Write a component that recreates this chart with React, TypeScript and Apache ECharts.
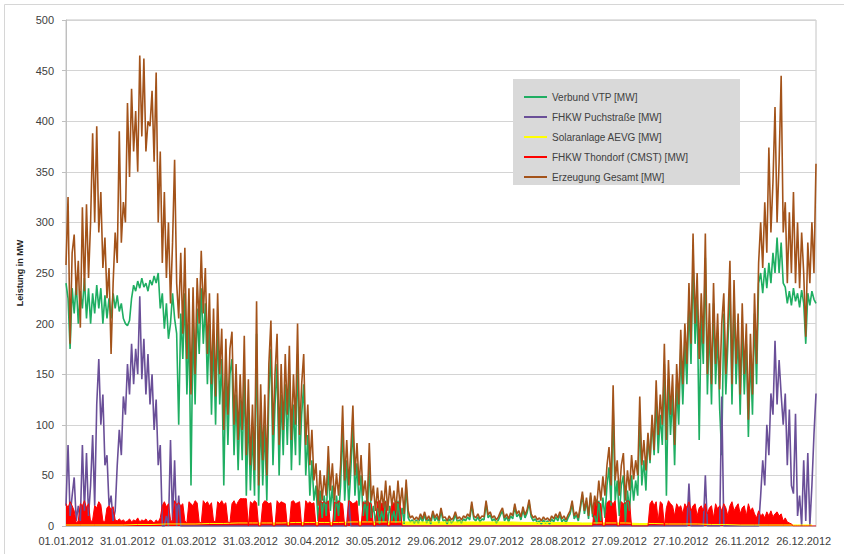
import React, { useEffect, useRef } from 'react';
import * as echarts from 'echarts';

// x tick labels (every 30 days from 01.01.2012)
const xTickLabels = [
  '01.01.2012', '31.01.2012', '01.03.2012', '31.03.2012', '30.04.2012', '30.05.2012', '29.06.2012',
  '29.07.2012', '28.08.2012', '27.09.2012', '27.10.2012', '26.11.2012', '26.12.2012',
];

const names = [
  'Verbund VTP [MW]',
  'FHKW Puchstraße [MW]',
  'Solaranlage AEVG [MW]',
  'FHKW Thondorf (CMST) [MW]',
  'Erzeugung Gesamt [MW]',
];

// Erzeugung Gesamt, one value per day (day 0..366)
const gesamt = [
  258, 325, 180, 270, 288, 228, 262, 196, 315, 232,
  318, 245, 300, 388, 300, 395, 290, 330, 255, 285,
  225, 255, 170, 240, 290, 260, 390, 280, 320, 300,
  418, 345, 432, 370, 410, 350, 465, 385, 462, 370,
  400, 395, 430, 360, 448, 300, 370, 260, 330, 245,
  300, 220, 280, 362, 240, 205, 270, 190, 275, 165,
  235, 130, 236, 150, 245, 200, 272, 210, 255, 170,
  230, 140, 215, 128, 230, 150, 195, 95, 185, 110,
  175, 192, 100, 160, 85, 150, 95, 188, 70, 145,
  60, 120, 55, 222, 40, 140, 65, 130, 50, 160,
  203, 90, 150, 190, 80, 160, 95, 170, 110, 178,
  85, 150, 100, 200, 90, 140, 170, 80, 120, 60,
  95, 45, 62, 20, 55, 25, 50, 30, 79, 35,
  62, 25, 52, 30, 60, 119, 45, 85, 40, 75,
  119, 50, 82, 40, 70, 30, 45, 20, 82, 25,
  40, 15, 38, 12, 35, 18, 45, 15, 40, 20,
  35, 15, 45, 20, 38, 12, 46, 15, 8, 10,
  6, 9, 6, 12, 7, 14, 6, 10, 5, 15,
  8, 12, 6, 18, 8, 9, 5, 10, 6, 8,
  14, 7, 9, 6, 10, 8, 12, 9, 24, 10,
  8, 12, 7, 10, 9, 25, 11, 14, 8, 10,
  6, 9, 14, 18, 8, 12, 7, 13, 10, 22,
  12, 15, 9, 19, 11, 16, 26, 12, 8, 10,
  6, 8, 5, 9, 6, 8, 5, 10, 7, 12,
  8, 14, 7, 10, 6, 11, 15, 25, 10, 14,
  8, 20, 34, 15, 28, 10, 33, 12, 30, 20,
  45, 25, 49, 30, 60, 78, 40, 139, 45, 65,
  30, 60, 72, 25, 55, 35, 70, 46, 65, 50,
  128, 60, 85, 55, 92, 65, 110, 75, 144, 90,
  130, 100, 180, 85, 164, 110, 150, 80, 160, 120,
  194, 140, 200, 160, 240, 180, 289, 200, 250, 165,
  230, 180, 289, 150, 220, 140, 240, 160, 210, 135,
  200, 230, 150, 200, 262, 140, 243, 160, 210, 130,
  220, 150, 200, 105, 190, 130, 230, 160, 260, 300,
  255, 320, 270, 374, 290, 340, 414, 300, 360, 445,
  290, 320, 240, 310, 250, 330, 240, 300, 235, 290,
  250, 187, 280, 240, 300, 250, 358,
];

// Verbund VTP, one value per day
const verbund = [
  240, 225, 175, 235, 210, 240, 200, 232, 215, 245,
  205, 235, 200, 230, 210, 238, 215, 235, 200, 228,
  205, 225, 205, 230, 215, 228, 212, 220, 205, 200,
  198, 203, 225, 238, 232, 242, 235, 245, 236, 240,
  232, 243, 238, 247, 240, 250, 215, 230, 195, 220,
  185, 200, 230, 205, 190, 100, 210, 165, 230, 130,
  200, 40, 205, 120, 215, 170, 235, 180, 220, 140,
  200, 110, 185, 100, 200, 120, 165, 40, 155, 80,
  150, 165, 70, 130, 55, 125, 65, 150, 30, 115,
  35, 95, 30, 190, 20, 110, 40, 100, 25, 130,
  175, 60, 120, 160, 50, 130, 70, 140, 80, 150,
  55, 120, 70, 170, 60, 110, 140, 50, 90, 30,
  65, 25, 40, 5, 35, 8, 30, 10, 60, 15,
  40, 5, 30, 10, 40, 100, 25, 65, 20, 55,
  100, 30, 62, 20, 50, 10, 25, 5, 62, 8,
  20, 3, 18, 2, 15, 4, 25, 3, 20, 5,
  15, 3, 25, 5, 18, 2, 40, 8, 4, 6,
  3, 6, 3, 9, 4, 11, 3, 7, 2, 12,
  5, 9, 3, 15, 5, 6, 2, 7, 3, 5,
  11, 4, 6, 3, 7, 5, 9, 6, 21, 7,
  5, 9, 4, 7, 6, 22, 8, 11, 5, 7,
  3, 6, 11, 15, 5, 9, 4, 10, 7, 19,
  9, 12, 6, 16, 8, 13, 23, 9, 5, 7,
  3, 5, 2, 6, 3, 5, 2, 7, 4, 9,
  5, 11, 4, 7, 3, 8, 12, 22, 7, 11,
  5, 17, 31, 12, 25, 7, 30, 9, 10, 2,
  25, 5, 28, 8, 40, 58, 20, 118, 25, 45,
  10, 40, 50, 4, 35, 15, 50, 25, 45, 30,
  108, 40, 65, 35, 90, 62, 105, 70, 125, 72,
  110, 80, 160, 30, 145, 90, 130, 60, 140, 100,
  175, 120, 180, 140, 220, 160, 260, 180, 225, 85,
  210, 160, 265, 130, 200, 120, 220, 140, 190, 115,
  70, 210, 130, 180, 240, 120, 222, 140, 190, 110,
  200, 130, 180, 88, 170, 110, 210, 140, 240, 250,
  230, 255, 235, 260, 240, 270, 250, 285, 250, 280,
  240, 236, 220, 232, 218, 235, 222, 230, 216, 233,
  220, 180, 230, 218, 232, 224, 220,
];

// FHKW Puchstraße, one value per day
const puchstrasse = [
  20, 80, 10, 30, 48, 5, 20, 5, 80, 15,
  72, 10, 40, 90, 20, 120, 165, 100, 130, 60,
  70, 20, 30, 5, 15, 60, 95, 70, 128, 110,
  160, 130, 180, 140, 175, 150, 227, 145, 185, 130,
  170, 120, 150, 95, 125, 60, 80, 0, 0, 10,
  0, 85, 5, 65, 0, 30, 0, 0, 0, 0,
  0, 0, 0, 0, 0, 0, 0, 0, 0, 0,
  0, 0, 0, 0, 0, 0, 0, 0, 0, 0,
  0, 0, 0, 0, 0, 0, 0, 0, 0, 0,
  0, 0, 0, 0, 0, 0, 0, 0, 0, 0,
  0, 0, 0, 0, 0, 0, 0, 0, 0, 0,
  0, 0, 0, 0, 0, 0, 0, 0, 0, 0,
  0, 0, 0, 0, 0, 0, 0, 0, 0, 0,
  0, 0, 0, 0, 0, 0, 0, 0, 25, 0,
  0, 0, 0, 0, 0, 0, 0, 0, 0, 0,
  0, 0, 0, 0, 0, 0, 0, 0, 0, 0,
  0, 0, 0, 0, 0, 0, 0, 0, 0, 0,
  0, 0, 0, 0, 0, 0, 0, 0, 0, 0,
  0, 0, 0, 0, 0, 0, 0, 0, 0, 0,
  0, 0, 0, 0, 0, 0, 0, 0, 0, 0,
  0, 0, 0, 0, 0, 0, 0, 0, 0, 0,
  0, 0, 0, 0, 0, 0, 0, 0, 0, 0,
  0, 0, 0, 0, 0, 0, 0, 0, 0, 0,
  0, 0, 0, 0, 0, 0, 0, 0, 0, 0,
  0, 0, 0, 0, 0, 0, 0, 0, 0, 0,
  0, 0, 0, 0, 0, 0, 0, 0, 0, 0,
  0, 0, 0, 0, 0, 0, 0, 0, 0, 0,
  0, 0, 0, 0, 0, 0, 0, 0, 0, 0,
  0, 0, 0, 0, 0, 0, 0, 0, 0, 0,
  0, 0, 0, 0, 0, 0, 0, 0, 0, 0,
  0, 0, 0, 0, 42, 0, 0, 0, 0, 0,
  0, 0, 50, 0, 0, 0, 0, 0, 0, 0,
  128, 0, 0, 0, 0, 0, 0, 0, 0, 0,
  0, 0, 0, 0, 0, 0, 0, 0, 0, 30,
  65, 40, 100, 70, 131, 110, 183, 120, 164, 130,
  100, 131, 60, 115, 40, 32, 111, 10, 30, 0,
  65, 5, 72, 0, 40, 90, 131,
];

// FHKW Thondorf (CMST), one value per day
const thondorf = [
  22, 18, 24, 20, 15, 3, 5, 22, 20, 25,
  18, 22, 4, 6, 20, 18, 24, 21, 5, 4,
  18, 20, 16, 19, 6, 5, 7, 5, 6, 4,
  5, 7, 4, 6, 5, 8, 4, 6, 5, 7,
  4, 6, 5, 3, 6, 4, 8, 20, 24, 19,
  22, 6, 4, 25, 21, 23, 20, 22, 5, 3,
  24, 22, 20, 25, 23, 4, 3, 25, 22, 24,
  20, 23, 5, 4, 24, 22, 25, 21, 23, 4,
  3, 22, 25, 20, 24, 27, 27, 27, 27, 0,
  24, 22, 25, 23, 0, 0, 22, 25, 24, 22,
  23, 0, 0, 25, 22, 24, 23, 22, 0, 0,
  24, 25, 22, 23, 24, 0, 0, 25, 22, 24,
  22, 23, 0, 0, 25, 23, 24, 22, 25, 0,
  0, 24, 22, 25, 23, 22, 0, 0, 25, 24,
  22, 23, 25, 0, 0, 24, 22, 25, 23, 22,
  0, 0, 24, 25, 22, 23, 24, 0, 0, 25,
  22, 24, 23, 22, 0, 0, 0, 0, 0, 0,
  0, 0, 0, 0, 0, 0, 0, 0, 0, 0,
  0, 0, 0, 0, 0, 0, 0, 0, 0, 0,
  0, 0, 0, 0, 0, 0, 0, 0, 0, 0,
  0, 0, 0, 0, 0, 0, 0, 0, 0, 0,
  0, 0, 0, 0, 0, 0, 0, 0, 0, 0,
  0, 0, 0, 0, 0, 0, 0, 0, 0, 0,
  0, 0, 0, 0, 0, 0, 0, 0, 0, 0,
  0, 0, 0, 0, 0, 0, 0, 0, 0, 0,
  0, 0, 0, 0, 0, 0, 0, 0, 24, 25,
  23, 22, 0, 0, 23, 25, 24, 22, 25, 0,
  0, 24, 22, 23, 25, 24, 0, 0, 0, 0,
  0, 0, 0, 0, 0, 22, 25, 20, 24, 5,
  24, 22, 0, 18, 25, 22, 20, 10, 22, 18,
  20, 12, 22, 18, 24, 15, 20, 22, 10, 18,
  20, 15, 22, 12, 18, 20, 8, 22, 17, 20,
  15, 22, 18, 10, 20, 24, 15, 19, 22, 12,
  18, 20, 10, 22, 15, 18, 12, 8, 15, 10,
  12, 8, 14, 10, 15, 9, 12, 14, 10, 12,
  5, 8, 4, 3, 2, 0, 0, 0, 0, 0,
  0, 0, 0, 0, 0, 0, 0,
];

// Solaranlage AEVG, one value per week (day 0, 7, 14, ...)
const solar = [
  1, 1, 1, 1, 1, 1.5, 1.5, 2, 2, 2,
  2.5, 2.5, 3, 3, 3, 3, 3.5, 3.5, 3.5, 3.5,
  4, 4, 4, 4, 4, 4, 4, 4, 4, 4,
  4, 4, 3.5, 3.5, 3.5, 3.5, 3, 3, 3, 3,
  2.5, 2.5, 2, 2, 2, 1.5, 1.5, 1, 1, 1,
  1, 1, 1,
];

const colors = ['#1fae62', '#6a4f98', '#ffff00', '#ff0000', '#a3531a'];

export default function App() {
  const ref = useRef<HTMLDivElement>(null);
  useEffect(() => {
    const chart = echarts.init(ref.current as HTMLDivElement, null, { renderer: 'svg' });
    const toXY = (arr: number[], step: number) => arr.map((v, i) => [i * step, v]);
    const mk = (i: number, arr: number[], step: number, width: number, area: boolean) => ({
      name: names[i],
      type: 'line',
      data: toXY(arr, step),
      symbol: 'none',
      showSymbol: false,
      silent: true,
      lineStyle: { color: colors[i], width },
      itemStyle: { color: colors[i] },
      areaStyle: area ? { color: colors[i], opacity: 1 } : undefined,
    });
    chart.setOption({
      animation: false,
      textStyle: { fontFamily: 'Liberation Sans, Arial, sans-serif' },
      grid: {
        left: 66, right: 28, top: 20, bottom: 28,
        show: true, borderColor: '#c4c4c4', borderWidth: 1, backgroundColor: 'transparent',
      },
      graphic: [
        {
          type: 'rect', z: 0, silent: true,
          shape: { x: 4.5, y: 4.5, width: 900, height: 600 },
          style: { fill: 'none', stroke: '#d6d6d6', lineWidth: 1 },
        },
        {
          type: 'rect', z: 50, silent: true,
          shape: { x: 513, y: 79, width: 227, height: 106 },
          style: { fill: '#d9d9d9' },
        },
      ],
      legend: {
        z: 60,
        orient: 'vertical',
        left: 519,
        top: 86,
        icon: 'rect',
        itemWidth: 23,
        itemHeight: 2,
        itemGap: 8,
        data: names,
        textStyle: { fontSize: 10, color: '#404040', lineHeight: 12 },
      },
      xAxis: {
        type: 'value',
        min: 0,
        max: 366,
        interval: 30,
        axisLine: { show: true, lineStyle: { color: '#bfbfbf' } },
        axisTick: { show: false },
        splitLine: { show: false },
        axisLabel: {
          fontSize: 11,
          color: '#404040',
          margin: 9,
          formatter: (v: number) => {
            const k = Math.round(v / 30);
            return Math.abs(v - k * 30) < 0.01 && k < xTickLabels.length ? xTickLabels[k] : '';
          },
        },
      },
      yAxis: {
        type: 'value',
        min: 0,
        max: 500,
        interval: 50,
        name: 'Leistung in MW',
        nameLocation: 'middle',
        nameGap: 34,
        nameTextStyle: { fontSize: 9, fontWeight: 'bold', color: '#262626' },
        axisLine: { show: true, lineStyle: { color: '#bfbfbf' } },
        axisTick: { show: true, length: 4, lineStyle: { color: '#bfbfbf' } },
        splitLine: { show: true, lineStyle: { color: '#d4d4d4' } },
        axisLabel: { fontSize: 11, color: '#404040', margin: 12 },
      },
      series: [
        mk(0, verbund, 1, 1.6, false),
        mk(1, puchstrasse, 1, 1.6, false),
        mk(2, solar, 7, 1, true),
        mk(3, thondorf, 1, 1, true),
        mk(4, gesamt, 1, 1.6, false),
      ],
    });
    return () => chart.dispose();
  }, []);
  return (
    <div
      ref={ref}
      style={{ position: 'absolute', left: 0, top: 0, width: 844, height: 554, background: '#fff' }}
    />
  );
}
